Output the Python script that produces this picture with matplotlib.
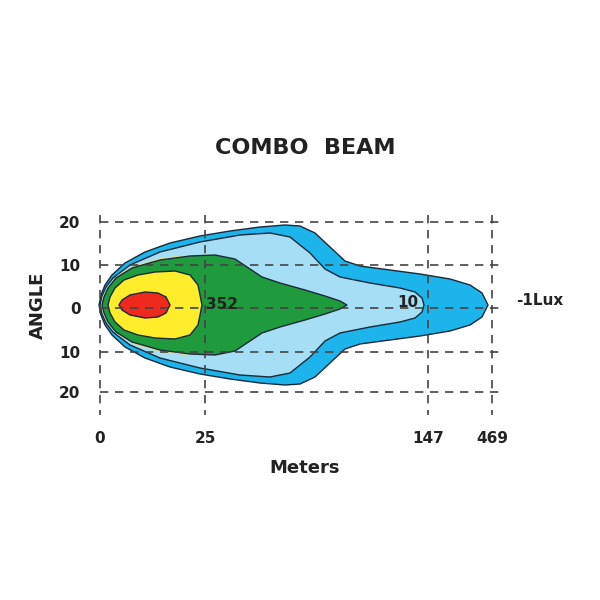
import matplotlib
matplotlib.use("Agg")
import matplotlib.pyplot as plt
import numpy as np

# Tick positions (pixel-like chart units) and labels
x_ticks = [100, 205, 428, 492]
x_labels = ["0", "25", "147", "469"]
y_ticks = [222, 265, 308, 352, 392]
y_labels = ["20", "10", "0", "10", "20"]
center = 305

# Beam contours: distance positions and half-widths
blue_x = [99, 101, 105, 112, 125, 145, 170, 200, 230, 260, 285, 300, 315, 330, 345, 360, 390, 420, 450, 470, 482, 488]
blue_w = [0, 10, 20, 30, 42, 53, 62, 69, 74, 78, 80, 79, 72, 58, 44, 39, 35, 31, 26, 20, 12, 0]
lblue_x = [100, 102, 106, 113, 130, 160, 200, 240, 270, 290, 310, 325, 340, 370, 400, 415, 422, 424]
lblue_w = [0, 9, 18, 27, 40, 53, 63, 70, 72, 68, 52, 36, 28, 22, 17, 13, 7, 0]
pale_x = [101, 103, 108, 118, 135, 160, 185, 200]
pale_w = [0, 9, 19, 30, 40, 47, 50, 48]
green_x = [102, 104, 108, 116, 132, 160, 190, 215, 235, 250, 262, 280, 305, 325, 340, 347]
green_w = [0, 8, 17, 27, 37, 45, 49, 50, 46, 36, 28, 22, 15, 9, 4, 0]
yellow_x = [108, 110, 115, 124, 138, 155, 175, 190, 198, 202]
yellow_w = [0, 8, 17, 25, 30, 33, 34, 30, 20, 0]
red_x = [119, 122, 130, 145, 158, 166, 170]
red_w = [0, 5, 10, 13, 12, 8, 0]

layers = [
    (blue_x, blue_w, "#1cb4ea"),
    (lblue_x, lblue_w, "#a6def5"),
    (pale_x, pale_w, "#dcdca0"),
    (green_x, green_w, "#1f9a3c"),
    (yellow_x, yellow_w, "#ffec2a"),
    (red_x, red_w, "#ee2a1e"),
]

fig = plt.figure(figsize=(6, 6), dpi=100)
ax = fig.add_axes([100/600, 1-400/600, 400/600, 185/600])
ax.set_xlim(100, 500)
ax.set_ylim(400, 215)

for xs, ws, col in layers:
    xs = np.array(xs, float); ws = np.array(ws, float)
    px = np.concatenate([xs, xs[::-1]])
    py = np.concatenate([center - ws, (center + ws)[::-1]])
    ec = "none" if col == "#dcdca0" else "#1a2a3a"
    ax.fill(px, py, color=col, ec=ec, lw=1.0, clip_on=False, zorder=2)

for y in y_ticks:
    ax.plot([100, 500], [y, y], ls=(0, (5, 4)), color="#444444", lw=1.2, zorder=3)
for x in x_ticks:
    ax.plot([x, x], [215, 415], ls=(0, (5, 4)), color="#444444", lw=1.2, zorder=3, clip_on=False)

ax.set_xticks(x_ticks)
ax.set_xticklabels(x_labels, fontweight="bold", fontsize=11, color="#222222")
ax.set_yticks(y_ticks)
ax.set_yticklabels(y_labels, fontweight="bold", fontsize=11, color="#222222")
ax.tick_params(length=0, pad=14)
ax.tick_params(axis="x", pad=22)
for s in ax.spines.values():
    s.set_visible(False)

ax.text(222, 305, "352", fontsize=11, fontweight="bold", ha="center", va="center", color="#222222", zorder=4)
ax.text(408, 303, "10", fontsize=11, fontweight="bold", ha="center", va="center", color="#222222", zorder=4)
ax.text(540, 301, "-1Lux", fontsize=11, fontweight="bold", ha="center", va="center", color="#222222", clip_on=False)

fig.text(305/600, 1-148/600, "COMBO  BEAM", fontsize=16, fontweight="bold", ha="center", va="center", color="#222222")
fig.text(305/600, 1-468/600, "Meters", fontsize=13, fontweight="bold", ha="center", va="center", color="#222222")
fig.text(38/600, 1-305/600, "ANGLE", fontsize=13, fontweight="bold", ha="center", va="center", rotation=90, color="#222222")

fig.savefig("out.png", dpi=100, facecolor="white")
